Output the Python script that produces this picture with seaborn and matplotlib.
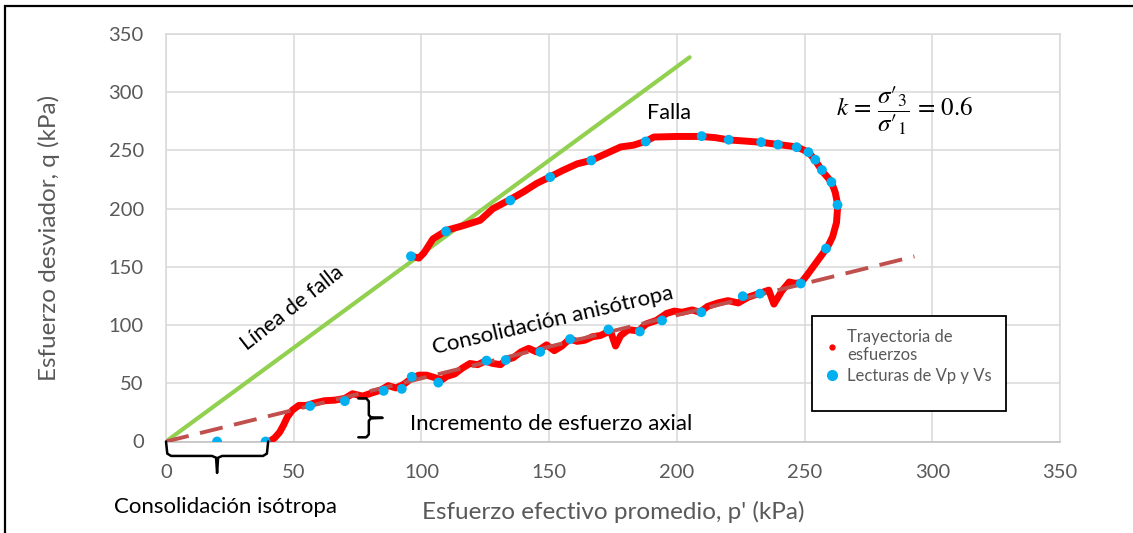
import matplotlib
matplotlib.use("Agg")
import matplotlib.pyplot as plt
from matplotlib.lines import Line2D
from matplotlib.patches import Rectangle
import seaborn as sns

# trayectoria de esfuerzos (p', q) en kPa
p_tray = [40.5, 42.5, 44.5, 46, 47.5, 49.5, 52,
          55, 58, 62, 66, 70, 73, 77, 81, 84, 87, 90, 93, 96, 99, 102, 105, 108,
          110, 113, 116, 119, 122, 125, 128, 131, 133, 136, 139, 142, 145, 149,
          152, 155, 158, 161, 164, 167, 170, 174, 176, 178, 181, 185, 188, 192,
          196, 199, 202, 206, 209, 212, 216, 220, 224, 228, 232, 236, 238, 241,
          244, 246, 248.5,
          251, 254, 257, 259, 261, 262.5, 263, 262, 260.5, 257, 254, 251.5, 247,
          240, 233, 227, 220.5, 215, 209.5, 200, 191, 188, 183, 178, 172.5,
          166.5, 161, 155.5, 150.5, 145, 140, 134.5, 128, 123, 116.5, 110, 104.5,
          101, 99, 96.5]
q_tray = [0, 3, 8, 14, 21, 27, 31,
          31, 33, 35, 35.5, 37, 41, 39, 42, 44, 48, 46, 49, 54, 57, 57, 55, 53,
          56, 58, 63, 67, 66, 69, 67, 66, 70, 72, 77, 80, 77, 83,
          78, 82, 88, 86, 87, 90, 91, 95, 82, 91, 96, 95, 101, 104,
          110, 112, 111, 113, 111, 116, 119, 121, 119, 124, 127, 130, 118, 129,
          137, 136, 136,
          143, 152, 161, 167, 176, 188, 203, 214, 223, 232, 242, 248.5, 253,
          255, 257, 258, 259, 261, 262, 262, 261.5, 258, 254.5, 253, 247.5,
          241.5, 238.5, 233, 227.5, 221.5, 214.5, 207.5, 200, 190, 185.5, 181.5, 174,
          162, 157.5, 159]

# lecturas de Vp y Vs
p_ondas = [20, 39, 56.4, 70, 85.2, 92.3, 96.2, 106.6, 125.5, 133, 146.5, 158.2,
           173.2, 185.5, 194.2, 209.6, 225.8, 232.5, 248.5, 258.4, 262.9, 260.5,
           256.8, 254.2, 251.5, 246.9, 239.6, 233, 220.3, 209.7, 187.8, 166.5,
           150.4, 134.8, 109.6, 95.9]
q_ondas = [0, 0, 30.5, 34.7, 43.5, 45.2, 55.6, 50.6, 69.5, 70, 77, 88,
           96.2, 94.5, 104, 111, 124.8, 127, 135.7, 165.7, 203.2, 222.8,
           233.2, 242, 248.5, 252.8, 255, 257.1, 259.2, 262.3, 257.7, 241.4,
           227.1, 207.1, 180.5, 159.1]

# rectas de referencia
p_falla = [0, 205]
q_falla = [0, 330]
p_aniso = [0, 293]
q_aniso = [0, 159]

ticks = [0, 50, 100, 150, 200, 250, 300, 350]

sns.set_theme(style="whitegrid")
plt.rcParams["font.family"] = ["Lato", "DejaVu Sans"]
plt.rcParams["mathtext.fontset"] = "stix"

W, H = 1133, 533
fig = plt.figure(figsize=(W / 100, H / 100), dpi=100)
ax = fig.add_axes([166 / W, 1 - 441.5 / H, 894 / W, 407.5 / H])

gris = "#595959"
ax.plot(p_falla, q_falla, color="#92D050", lw=3, zorder=2, solid_capstyle="round")
sns.lineplot(x=p_tray, y=q_tray, sort=False, estimator=None, color="#FF0000",
             lw=5, ax=ax, zorder=3)
ax.plot(p_aniso, q_aniso, color="#C0504D", lw=2.8, dashes=(6, 3), zorder=3.5)
sns.scatterplot(x=p_ondas, y=q_ondas, color="#00B0F0", s=50, edgecolor="none",
                ax=ax, zorder=4)

ax.set_xlim(0, 350)
ax.set_ylim(0, 350)
ax.set_xticks(ticks)
ax.set_yticks(ticks)
ax.grid(True, color="#D9D9D9", lw=1.1)
for s in ax.spines.values():
    s.set_color("#D9D9D9")
    s.set_linewidth(1.1)
ax.spines["bottom"].set_color("#BFBFBF")
ax.tick_params(length=0, pad=16, labelsize=14.5, labelcolor=gris)

ax.set_xlabel("Esfuerzo efectivo promedio, p' (kPa)", fontsize=17.5, color=gris)
ax.set_ylabel("Esfuerzo desviador, q (kPa)", fontsize=17.5, color=gris)
ax.xaxis.set_label_coords(0.5, -0.145)
ax.yaxis.set_label_coords(-0.119, 0.5)

# textos
ax.text(188.5, 277.2, "Falla", fontsize=15.5, color="black")
ax.text(289.3, 284.3, r"$k\,=\,\dfrac{\sigma\prime_3}{\sigma\prime_1}\,=\,0.6$", fontsize=18,
        ha="center", va="center", color="black")
ax.text(49.3, 114.5, "Línea de falla", fontsize=15.5, rotation=38,
        rotation_mode="anchor", ha="center", va="center", color="black")
ax.text(151.5, 104.2, "Consolidación anisótropa", fontsize=16, rotation=13,
        rotation_mode="anchor", ha="center", va="center", color="black")
ax.text(95.5, 9.9, "Incremento de esfuerzo axial", fontsize=16, color="black")
ax.text(-20.2, -61.6, "Consolidación isótropa", fontsize=16, color="black",
        clip_on=False)


def llave_h(ax, x0, x1, y0, yb, yt):
    # llave horizontal que abre hacia arriba
    xm = (x0 + x1) / 2
    xs = [x0, x0 + 0.5, x0 + 2, xm - 2, xm - 0.4, xm, xm + 0.4, xm + 2, x1 - 2, x1 - 0.5, x1]
    ys = [y0, yb + 2, yb, yb, yb - 1.5, yt, yb - 1.5, yb, yb, yb + 2, y0]
    ax.plot(xs, ys, color="black", lw=1.8, clip_on=False, zorder=5)


def llave_v(ax, y0, y1, x0, xb, xt):
    # llave vertical que abre hacia la izquierda
    ym = (y0 + y1) / 2
    ys = [y1, y1, y1 - 2.5, ym + 2.5, ym + 0.5, ym, ym - 0.5, ym - 2.5, y0 + 2.5, y0, y0]
    xs = [x0, xb - 1, xb, xb, xb + 0.8, xt, xb + 0.8, xb, xb, xb - 1, x0]
    ax.plot(xs, ys, color="black", lw=1.8, clip_on=False, zorder=5)


llave_h(ax, 0, 40, 0, -12.4, -27)
llave_v(ax, 3.6, 37, 75.3, 79.4, 84.8)

# leyenda
ax.add_patch(Rectangle((811.7 / W, 1 - 410.7 / H), 194.3 / W, 94.7 / H,
                       transform=fig.transFigure, facecolor="white",
                       edgecolor="black", lw=1.3, zorder=6, clip_on=False))
h1 = Line2D([], [], ls="", marker="o", ms=3.5, color="#FF0000")
h2 = Line2D([], [], ls="", marker="o", ms=7, color="#00B0F0")
leg = ax.legend([h1, h2], ["Trayectoria de\nesfuerzos", "Lecturas de Vp y Vs"],
                loc="upper left", bbox_to_anchor=(814 / W, 1 - 317 / H),
                bbox_transform=fig.transFigure, frameon=False, fontsize=12,
                handlelength=0.8, handletextpad=0.5, labelspacing=0.3,
                borderpad=0.2)
leg.set_zorder(7)
for t in leg.get_texts():
    t.set_color(gris)

# marco exterior
fig.add_artist(Rectangle((5 / W, -0.1), 2, 1 - 6.5 / H + 0.1, transform=fig.transFigure,
                         fill=False, edgecolor="black", lw=1.6))

fig.savefig("out.png", dpi=100)
